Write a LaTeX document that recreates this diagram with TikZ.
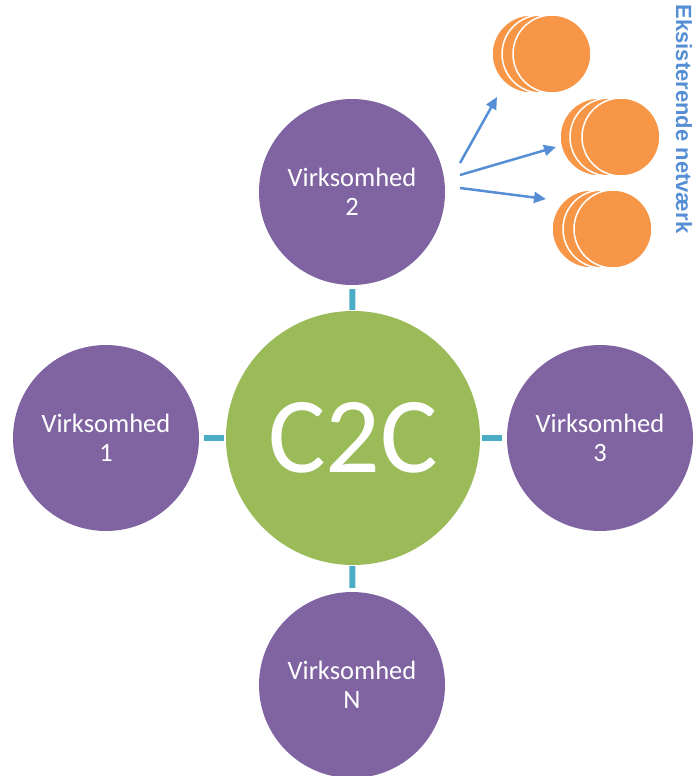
\documentclass[tikz,border=0pt]{standalone}
\usepackage{fontspec}
\setmainfont{Carlito}
\newfontfamily\arialfont{Liberation Sans}
\usetikzlibrary{arrows.meta}
\definecolor{purp}{HTML}{8064A2}
\definecolor{grn}{HTML}{9BBB59}
\definecolor{orng}{HTML}{F79646}
\definecolor{teal}{HTML}{4BACC6}
\definecolor{arrblue}{HTML}{558ED5}
\begin{document}
\begin{tikzpicture}[x=1pt,y=-1pt,
  vnode/.style={circle,fill=purp,minimum size=186pt,inner sep=0pt,text=white,
    font=\fontsize{26.5}{29}\selectfont,align=center},
  hub/.style={circle,fill=grn,minimum size=254pt,inner sep=0pt,text=white,
    font=\fontsize{108}{108}\selectfont},
  disc/.style={circle,fill=orng,draw=white,line width=1.5pt,minimum size=78pt,inner sep=0pt},
  conn/.style={draw=teal,line width=6pt},
  netarrow/.style={draw=arrblue,line width=2.5pt,-{Triangle[length=12pt,width=11pt]}}
]
\useasboundingbox (0,0) rectangle (693,776);

% central hub and companies
\node[hub] (c2c) at (353,438) {C2C};
\node[vnode] (v2) at (352,192) {Virksomhed\\2};
\node[vnode] (v1) at (106,438) {Virksomhed\\1};
\node[vnode] (v3) at (600,438) {Virksomhed\\3};
\node[vnode] (vn) at (352,685) {Virksomhed\\N};

% connectors
\draw[conn,shorten <=4pt,shorten >=1pt] (v2) -- (c2c);
\draw[conn,shorten <=4pt,shorten >=1pt] (vn) -- (c2c);
\draw[conn,shorten <=5pt,shorten >=2pt] (v1) -- (c2c);
\draw[conn,shorten <=5pt,shorten >=2pt] (v3) -- (c2c);

% orange stacks
\node[disc] (s1a) at (531,54) {};
\node[disc] (s1b) at (541,54) {};
\node[disc] (s1c) at (552,54) {};

\node[disc] (s2a) at (599,137) {};
\node[disc] (s2b) at (609,137) {};
\node[disc] (s2c) at (621,137) {};

\node[disc] (s3a) at (591,229) {};
\node[disc] (s3b) at (602,229) {};
\node[disc] (s3c) at (613,229) {};

% arrows
\coordinate (a1s) at (460,163);
\coordinate (a1e) at (497,97);
\coordinate (a2s) at (460,175);
\coordinate (a2e) at (556,147);
\coordinate (a3s) at (460,188);
\coordinate (a3e) at (546,199);
\draw[netarrow] (a1s) -- (a1e);
\draw[netarrow] (a2s) -- (a2e);
\draw[netarrow] (a3s) -- (a3e);

% vertical label
\node[rotate=-90,anchor=base,inner sep=0pt,text=arrblue,
  font=\arialfont\bfseries\fontsize{22}{22}\selectfont] (lbl) at (676,119) {Eksisterende netværk};
\end{tikzpicture}
\end{document}
